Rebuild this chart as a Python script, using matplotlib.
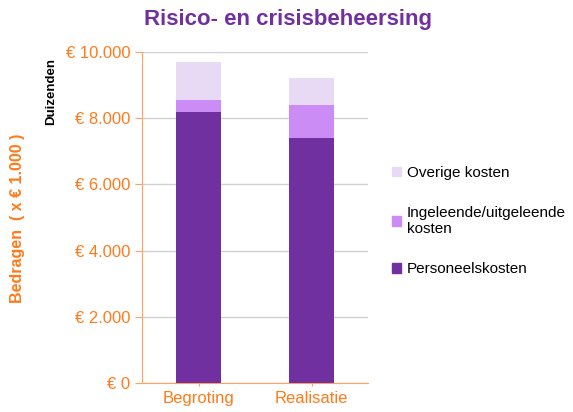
import matplotlib
matplotlib.use('Agg')
import matplotlib.pyplot as plt
from matplotlib.patches import Patch
from matplotlib.ticker import FuncFormatter

plt.rcParams['font.family'] = ['Liberation Sans', 'DejaVu Sans']

categories = ['Begroting', 'Realisatie']
personeel = [8190, 7410]
ingeleend = [360, 1000]
overige = [1150, 800]
series_labels = ['Personeelskosten', 'Ingeleende/uitgeleende\nkosten', 'Overige kosten']
yticks = [0, 2000, 4000, 6000, 8000, 10000]

colors = ['#7030A0', '#CC8CF5', '#E8D9F5']
orange = '#FF7A1A'
axis_orange = '#FFA064'


def euro(v, pos):
    return '€ ' + f'{int(v):,}'.replace(',', '.')


fig = plt.figure(figsize=(5.73, 4.12), dpi=100)
ax = fig.add_axes([142 / 573, 1 - 383 / 412, 226 / 573, 331 / 412])

x = range(len(categories))
bottom2 = [a + b for a, b in zip(personeel, ingeleend)]
ax.bar(x, personeel, width=0.4, color=colors[0], zorder=3)
ax.bar(x, ingeleend, width=0.4, bottom=personeel, color=colors[1], zorder=3)
ax.bar(x, overige, width=0.4, bottom=bottom2, color=colors[2], zorder=3)

ax.set_xlim(-0.5, 1.5)
ax.set_ylim(0, 10000)
ax.set_yticks(yticks)
ax.yaxis.set_major_formatter(FuncFormatter(euro))
ax.set_xticks(list(x))
ax.set_xticklabels(categories)
ax.grid(axis='y', color='#D0D0D0', linewidth=1, zorder=0)

for s in ['top', 'right']:
    ax.spines[s].set_visible(False)
ax.spines['left'].set_color(axis_orange)
ax.spines['bottom'].set_color(axis_orange)
ax.tick_params(axis='y', colors=axis_orange, labelcolor=orange, labelsize=12, length=5, direction='out')
ax.tick_params(axis='x', colors=axis_orange, labelcolor=orange, labelsize=12, length=4, direction='inout')

fig.text(18 / 573, 1 - 218 / 412, 'Bedragen  ( x € 1.000 )', rotation=90, color=orange,
         fontsize=11.5, fontweight='bold', ha='center', va='center')
fig.text(51 / 573, 1 - 58 / 412, 'Duizenden', rotation=90, color='black',
         fontsize=9.5, fontweight='bold', ha='center', va='top')
fig.text(288 / 573, 1 - 20 / 412, 'Risico- en crisisbeheersing', color='#7030A0',
         fontsize=16, fontweight='bold', ha='center', va='center')

handles = [Patch(color=colors[i], label=series_labels[i]) for i in [2, 1, 0]]
fig.legend(handles=handles, loc='center left', bbox_to_anchor=(378 / 573, 1 - 221 / 412),
           frameon=False, fontsize=11, handlelength=0.6, handleheight=0.6,
           handletextpad=0.4, labelspacing=1.7)

fig.savefig('out.png', dpi=100)
